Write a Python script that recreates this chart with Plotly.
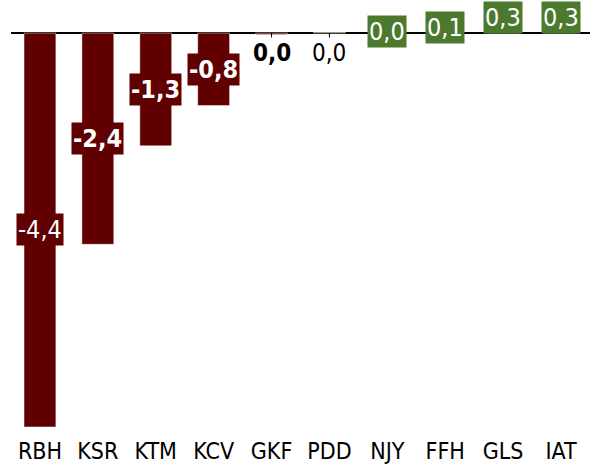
import plotly.graph_objects as go

categories = ["RBH", "KSR", "KTM", "KCV", "GKF", "PDD", "NJY", "FFH", "GLS", "IAT"]
values = [-4.4, -2.36, -1.26, -0.81, -0.015, 0.01, 0.034, 0.12, 0.34, 0.34]
label_text = ["-4,4", "-2,4", "-1,3", "-0,8", "0,0", "0,0", "0,0", "0,1", "0,3", "0,3"]
label_bold = [False, True, True, True, True, False, False, False, False, False]
label_outside = [False, False, False, False, True, True, False, False, False, False]

NEG = "#600000"
POS = "#4b7a2f"
FONT = "DejaVu Sans Condensed, DejaVu Sans, sans-serif"

colors = [NEG if v < 0 else POS for v in values]

fig = go.Figure()
fig.add_trace(go.Bar(
    x=categories, y=values,
    marker=dict(color=colors, line=dict(color="rgba(255,255,255,0.45)", width=1)),
    hoverinfo="skip",
))

for c, v, t, b, out, col in zip(categories, values, label_text, label_bold, label_outside, colors):
    txt = f"<b>{t}</b>" if b else t
    if out:
        fig.add_annotation(
            x=c, y=0, text=txt, showarrow=True, arrowhead=0, arrowwidth=1,
            arrowcolor="black", ax=0, ay=20, standoff=0,
            font=dict(family=FONT, size=24, color="black"),
        )
    else:
        fig.add_annotation(
            x=c, y=v / 2, text=txt, showarrow=False,
            bgcolor=col, borderpad=1,
            font=dict(family=FONT, size=25, color="white"),
        )

fig.update_layout(
    width=593, height=467,
    margin=dict(l=11, r=3, t=0, b=32),
    paper_bgcolor="white", plot_bgcolor="white",
    showlegend=False, bargap=0.45,
    font=dict(family=FONT, size=23, color="black"),
    xaxis=dict(showgrid=False, showline=False, ticks="", tickfont=dict(size=23, color="black")),
    yaxis=dict(range=[-4.49, 0.369], showgrid=False, showticklabels=False,
               zeroline=True, zerolinecolor="black", zerolinewidth=1.5),
)

fig.write_html("out.html", config={"displayModeBar": False},
               post_script="document.body.style.margin='0';")
